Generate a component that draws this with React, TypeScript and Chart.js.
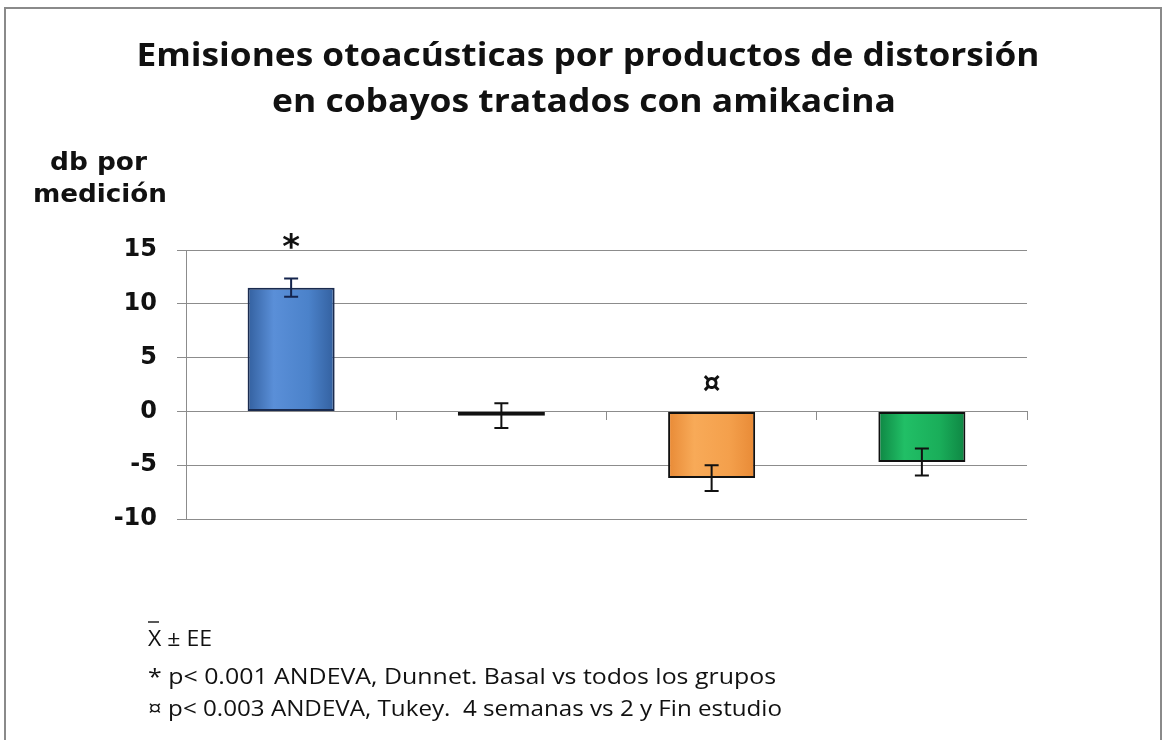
import React, { useEffect, useRef } from 'react';
import { Chart, registerables } from 'chart.js';

Chart.register(...registerables);

// Mean DPOAE change (dB) per measurement group, with standard error
const groups = ['Basal', '2 semanas', '4 semanas', 'Fin estudio'];
const meanDb = [11.5, -0.4, -6.2, -4.7];
const seDb = [0.85, 1.15, 1.2, 1.25];
const sigMarks = ['*', '', '¤', ''];

const yMin = -10;
const yMax = 15;
const yStep = 5;

const titleLines = [
  'Emisiones otoacústicas por productos de distorsión',
  'en cobayos tratados con amikacina',
];
const yTitleLines = ['db por', 'medición'];
const notes = [
  'X ± EE',
  '* p< 0.001 ANDEVA, Dunnet. Basal vs todos los grupos',
  '¤ p< 0.003 ANDEVA, Tukey.  4 semanas vs 2 y Fin estudio',
];

// per-bar horizontal shading stops (left → right)
const barShades = [
  ['#33609f', '#5a8fd8', '#4b82ca', '#33609f'],
  ['#2e2e2e', '#666666', '#555555', '#2e2e2e'],
  ['#e88a36', '#f8aa58', '#f4a04c', '#e88a36'],
  ['#0e8643', '#21bf66', '#1aae5a', '#0e8643'],
];
const barEdges = ['#1a2b4f', '#111111', '#111111', '#111111'];
const whiskerColors = ['#14244d', '#111111', '#111111', '#111111'];

const BAR_FRACTION = 0.414;
const GRID = '#8c8c8c';

function fitText(
  ctx: CanvasRenderingContext2D,
  text: string,
  font: string,
  x: number,
  baseline: number,
  width: number,
  align: 'left' | 'center'
) {
  ctx.save();
  ctx.font = font;
  ctx.textAlign = 'left';
  ctx.textBaseline = 'alphabetic';
  const natural = ctx.measureText(text).width;
  const left = align === 'center' ? x - width / 2 : x;
  ctx.translate(left, baseline);
  ctx.scale(width / natural, 1);
  ctx.fillText(text, 0, 0);
  ctx.restore();
}

const errorBarsPlugin = {
  id: 'errorBars',
  afterDatasetsDraw(chart: any) {
    const { ctx } = chart;
    const y = chart.scales.y;
    const meta = chart.getDatasetMeta(0);
    ctx.save();
    meta.data.forEach((bar: any, i: number) => {
      const x = bar.x;
      const top = y.getPixelForValue(meanDb[i] + seDb[i]);
      const bot = y.getPixelForValue(meanDb[i] - seDb[i]);
      ctx.strokeStyle = whiskerColors[i];
      ctx.lineWidth = 2;
      ctx.beginPath();
      ctx.moveTo(x, top);
      ctx.lineTo(x, bot);
      ctx.moveTo(x - 7, top);
      ctx.lineTo(x + 7, top);
      ctx.moveTo(x - 7, bot);
      ctx.lineTo(x + 7, bot);
      ctx.stroke();

      if (sigMarks[i]) {
        const anchor = y.getPixelForValue(Math.max(0, meanDb[i] + seDb[i]));
        ctx.fillStyle = '#111';
        ctx.textAlign = 'center';
        ctx.textBaseline = 'alphabetic';
        const isStar = sigMarks[i] === '*';
        ctx.font = isStar ? 'bold 34px "DejaVu Sans"' : 'bold 28px "DejaVu Sans"';
        ctx.fillText(sigMarks[i], x, anchor - (isStar ? 21 : 19));
      }
    });
    ctx.restore();
  },
};

const textPlugin = {
  id: 'chartText',
  afterDraw(chart: any) {
    const ctx: CanvasRenderingContext2D = chart.ctx;
    ctx.save();

    // outer frame
    ctx.strokeStyle = '#8a8a8a';
    ctx.lineWidth = 2;
    ctx.beginPath();
    ctx.moveTo(5, 740);
    ctx.lineTo(5, 8);
    ctx.lineTo(1161, 8);
    ctx.lineTo(1161, 740);
    ctx.stroke();

    ctx.fillStyle = '#111';
    const titleFont = 'bold 32px "Open Sans"';
    fitText(ctx, titleLines[0], titleFont, 588, 66, 903, 'center');
    fitText(ctx, titleLines[1], titleFont, 584, 112, 624, 'center');

    const yFont = 'bold 24px "DejaVu Sans"';
    fitText(ctx, yTitleLines[0], yFont, 98.5, 170, 97, 'center');
    fitText(ctx, yTitleLines[1], yFont, 100, 202, 134, 'center');

    const noteFont = '22px "Open Sans"';
    const noteX = 148;
    const noteBase = [646, 684, 716];
    const noteWidths = [64, 628, 634];
    notes.forEach((line, i) => fitText(ctx, line, noteFont, noteX, noteBase[i], noteWidths[i], 'left'));
    // bar over the mean symbol
    ctx.strokeStyle = '#222';
    ctx.lineWidth = 1.5;
    ctx.beginPath();
    ctx.moveTo(noteX, 622);
    ctx.lineTo(noteX + 11, 622);
    ctx.stroke();

    ctx.restore();
  },
};

function shade(context: any) {
  const chart = context.chart;
  const i = context.dataIndex;
  const stops = barShades[i] || barShades[0];
  const area = chart.chartArea;
  const xs = chart.scales.x;
  if (!area || !xs) return stops[1];
  const cx = xs.getPixelForValue(i);
  const half = ((area.right - area.left) / groups.length) * BAR_FRACTION / 2;
  const g = chart.ctx.createLinearGradient(cx - half, 0, cx + half, 0);
  g.addColorStop(0, stops[0]);
  g.addColorStop(0.3, stops[1]);
  g.addColorStop(0.7, stops[2]);
  g.addColorStop(1, stops[3]);
  return g;
}

export default function App() {
  const canvasRef = useRef<HTMLCanvasElement | null>(null);

  useEffect(() => {
    const canvas = canvasRef.current;
    if (!canvas) return;
    const chart = new Chart(canvas, {
      type: 'bar',
      data: {
        labels: groups,
        datasets: [
          {
            data: meanDb,
            backgroundColor: shade,
            borderColor: barEdges,
            borderWidth: 2,
            borderSkipped: false,
            categoryPercentage: 1,
            barPercentage: BAR_FRACTION,
          },
        ],
      },
      options: {
        responsive: false,
        animation: false,
        layout: { padding: { top: 250, right: 136, bottom: 221, left: 0 } },
        plugins: {
          legend: { display: false },
          title: { display: false },
          tooltip: { enabled: false },
        },
        scales: {
          x: {
            type: 'category',
            position: { y: 0 } as any,
            grid: {
              offset: true,
              drawOnChartArea: false,
              drawTicks: true,
              tickLength: 9,
              color: GRID,
            },
            border: { display: false },
            ticks: { display: false },
          },
          y: {
            min: yMin,
            max: yMax,
            ticks: {
              stepSize: yStep,
              padding: 20,
              color: '#111',
              font: { family: 'DejaVu Sans', weight: 'bold', size: 24 },
            },
            grid: { color: GRID, tickLength: 9 },
            border: { color: GRID },
            afterFit(scale: any) {
              scale.width = 186;
            },
          },
        },
      },
      plugins: [errorBarsPlugin, textPlugin],
    });
    return () => chart.destroy();
  }, []);

  return (
    <div style={{ position: 'absolute', left: 0, top: 0, width: 1163, height: 740, background: '#fff' }}>
      <canvas ref={canvasRef} width={1163} height={740} style={{ display: 'block' }} />
    </div>
  );
}
